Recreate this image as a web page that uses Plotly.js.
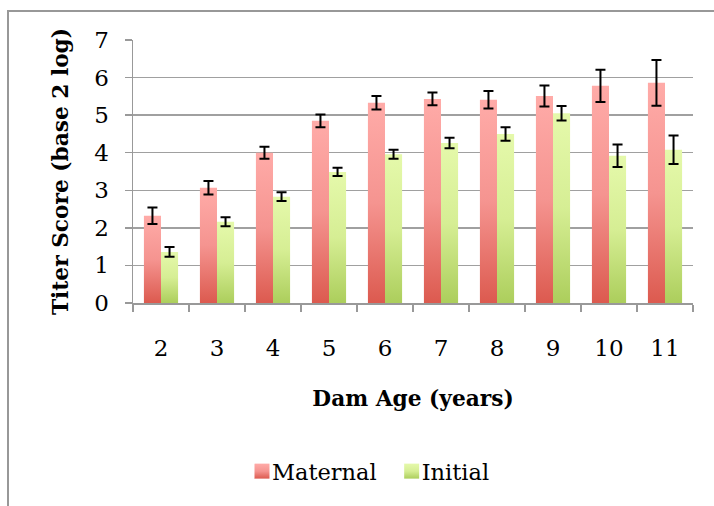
<!DOCTYPE html>
<html><head><meta charset="utf-8">
<script src="https://cdn.plot.ly/plotly-3.0.1.min.js"></script>
<style>
html,body{margin:0;padding:0;background:#fff;}
#frame{position:absolute;left:7px;top:10px;width:720px;height:510px;border-left:2px solid #989898;border-top:2px solid #989898;}
#chart{position:absolute;left:0;top:0;width:714px;height:506px;}
</style>
</head><body>
<div id="frame"></div>
<div id="chart"></div>
<script>
const ages = ['2','3','4','5','6','7','8','9','10','11'];
const maternal = [2.32, 3.07, 4.00, 4.85, 5.33, 5.43, 5.41, 5.51, 5.78, 5.86];
const maternalErr = [0.22, 0.18, 0.16, 0.17, 0.18, 0.17, 0.235, 0.28, 0.43, 0.61];
const initial = [1.36, 2.16, 2.83, 3.49, 3.96, 4.26, 4.50, 5.05, 3.92, 4.08];
const initialErr = [0.13, 0.12, 0.115, 0.11, 0.12, 0.14, 0.18, 0.195, 0.30, 0.38];
const seriesNames = ['Maternal', 'Initial'];

const font = 'DejaVu Serif, serif';
const errStyle = {type:'data', visible:true, color:'#000', thickness:2, width:5};

const traces = [
  {type:'bar', name:seriesNames[0], x:ages, y:maternal,
   error_y:Object.assign({array:maternalErr}, errStyle),
   marker:{color:'#EE8078', line:{width:0}}},
  {type:'bar', name:seriesNames[1], x:ages, y:initial,
   error_y:Object.assign({array:initialErr}, errStyle),
   marker:{color:'#CBE78A', line:{width:0}}}
];

const layout = {
  width:714, height:506,
  margin:{l:133, r:21, t:40, b:203},
  paper_bgcolor:'rgba(0,0,0,0)', plot_bgcolor:'rgba(0,0,0,0)',
  font:{family:font, size:23, color:'#000'},
  barmode:'group', bargap:0.39, bargroupgap:0,
  showlegend:true,
  legend:{orientation:'h', xref:'paper', yref:'paper',
          font:{family:font, size:22.5, color:'#000'}, itemwidth:30, traceorder:'normal'},
  xaxis:{type:'category', showline:true, linecolor:'#999', linewidth:1.5,
         ticks:'outside', tickson:'boundaries', ticklen:7, tickcolor:'#999', tickwidth:1.5,
         ticklabelstandoff:24, showgrid:false, zeroline:false, tickfont:{size:23},
         title:{text:'<b>Dam Age (years)</b>', standoff:30, font:{family:font, size:21.7}}},
  yaxis:{range:[0,7], dtick:1, showline:true, linecolor:'#999', linewidth:1.5,
         ticks:'outside', ticklen:7, tickcolor:'#999', tickwidth:1.5,
         showgrid:true, gridcolor:'#a0a0a0', gridwidth:1.5, zeroline:false,
         ticklabelstandoff:11, tickfont:{size:23},
         title:{text:'<b>Titer Score (base 2 log)</b>', standoff:19, font:{family:font, size:21.7}}}
};
// legend placed via pixel -> paper conversion
const plotW = 714-133-21, plotH = 506-40-203;
layout.legend.x = (232-133)/plotW;
layout.legend.y = -(450-303)/plotH;
layout.legend.yanchor = 'top';

Plotly.newPlot('chart', traces, layout, {displayModeBar:false, staticPlot:true}).then(function(gd){
  const svg = gd.querySelector('svg.main-svg');
  const ns = 'http://www.w3.org/2000/svg';
  const defs = document.createElementNS(ns,'defs');
  function grad(id, stops){
    const g = document.createElementNS(ns,'linearGradient');
    g.setAttribute('id', id); g.setAttribute('x1','0'); g.setAttribute('y1','0');
    g.setAttribute('x2','0'); g.setAttribute('y2','1');
    stops.forEach(function(s){
      const st = document.createElementNS(ns,'stop');
      st.setAttribute('offset', s[0]); st.setAttribute('stop-color', s[1]);
      g.appendChild(st);
    });
    defs.appendChild(g);
  }
  grad('gM', [['0','#FFABA8'],['0.5','#F59490'],['1','#DC5A4F']]);
  grad('gI', [['0','#E5F9AB'],['0.5','#D6EE94'],['1','#ACCE5C']]);
  svg.insertBefore(defs, svg.firstChild);
  const ids = ['url(#gM)','url(#gI)'];
  gd.querySelectorAll('.barlayer .trace').forEach(function(t,i){
    t.querySelectorAll('path').forEach(function(p){ p.style.fill = ids[i]; });
  });
  gd.querySelectorAll('.legend .traces').forEach(function(t,i){
    t.querySelectorAll('.legendpoints path').forEach(function(p){
      p.style.fill = ids[i];
      p.setAttribute('d','M17.5,7.5H2.5V-7.5H17.5Z');
    });
  });
});
</script>
</body></html>
